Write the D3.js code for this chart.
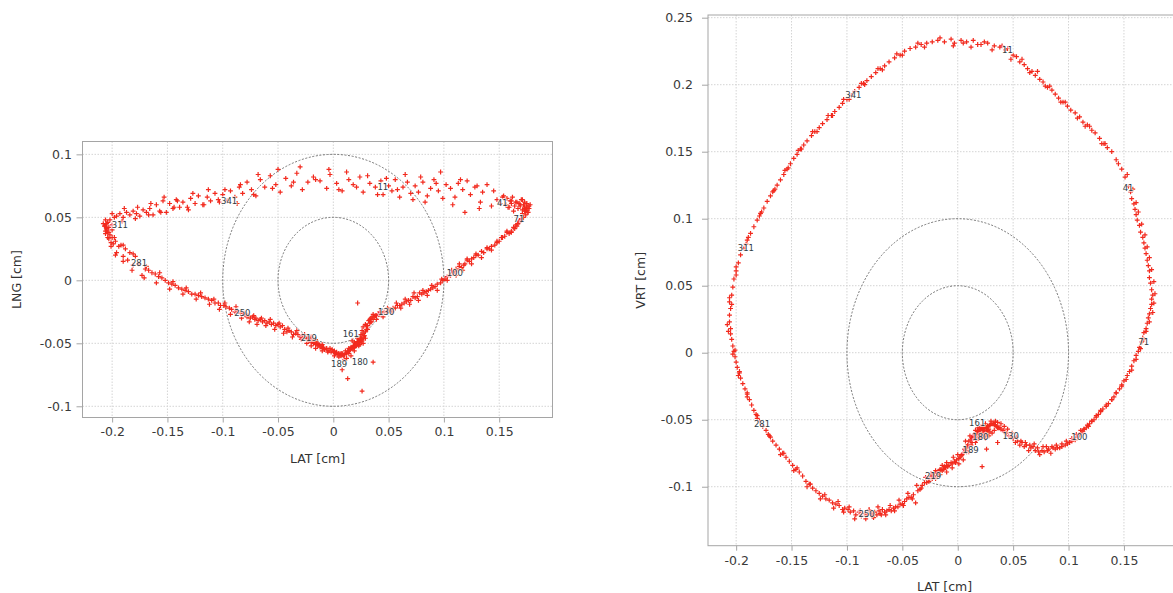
<!DOCTYPE html>
<html>
<head>
<meta charset="utf-8">
<script src="https://cdn.jsdelivr.net/npm/d3@7"></script>
<style>
  html, body { margin: 0; padding: 0; background: #fff; }
  svg text { font-family: "DejaVu Sans", Verdana, sans-serif; }
  .grid  { stroke: #d4d4d4; stroke-width: 1; stroke-dasharray: 1.5,1.5; }
  .ring  { fill: none; stroke: #666; stroke-width: 0.9; stroke-dasharray: 2,1.6; }
  .frame { fill: none; stroke: #a5a5a5; stroke-width: 1; }
  .axis line { stroke: #a5a5a5; }
  .axis text { fill: #3a3a3a; font-size: 12.5px; }
  .title { fill: #333; font-size: 12.5px; }
  .pt    { fill: none; stroke: #f22a1e; stroke-width: 1.2; }
  .plab  { fill: #2f3b45; font-size: 8.5px; stroke: #fff; stroke-width: 2; stroke-opacity: 0.7; paint-order: stroke; }
</style>
</head>
<body>
<svg id="chart" width="1173" height="593"></svg>
<script>
'use strict';

// ── Beat A: one sample per degree of the cycle (index 0..359) ──────────────
const LAT = [
  -0.012,-0.006,-0.003, 0.003, 0.008, 0.014, 0.018, 0.024, 0.027, 0.033,
   0.038, 0.043, 0.045, 0.050, 0.053, 0.056, 0.060, 0.063, 0.067, 0.070,
   0.074, 0.077, 0.081, 0.085, 0.088, 0.091, 0.095, 0.099, 0.102, 0.106,
   0.110, 0.113, 0.117, 0.121, 0.124, 0.128, 0.132, 0.135, 0.139, 0.143,
   0.148, 0.151, 0.154, 0.156, 0.157, 0.159, 0.160, 0.161, 0.162, 0.164,
   0.165, 0.167, 0.168, 0.169, 0.170, 0.171, 0.172, 0.173, 0.173, 0.174,
   0.175, 0.176, 0.175, 0.175, 0.174, 0.173, 0.172, 0.171, 0.170, 0.168,
   0.167, 0.166, 0.164, 0.163, 0.161, 0.159, 0.157, 0.155, 0.153, 0.150,
   0.148, 0.146, 0.143, 0.141, 0.139, 0.136, 0.134, 0.131, 0.129, 0.127,
   0.125, 0.123, 0.121, 0.119, 0.118, 0.116, 0.114, 0.113, 0.111, 0.110,
   0.108, 0.106, 0.103, 0.101, 0.099, 0.097, 0.094, 0.092, 0.090, 0.088,
   0.086, 0.084, 0.082, 0.080, 0.078, 0.076, 0.074, 0.072, 0.070, 0.068,
   0.066, 0.064, 0.062, 0.060, 0.058, 0.056, 0.054, 0.052, 0.050, 0.048,
   0.046, 0.044, 0.042, 0.041, 0.039, 0.038, 0.037, 0.035, 0.034, 0.033,
   0.032, 0.034, 0.029, 0.031, 0.027, 0.030, 0.026, 0.029, 0.025, 0.028,
   0.025, 0.027, 0.023, 0.026, 0.022, 0.024, 0.021, 0.023, 0.020, 0.022,
   0.020, 0.023, 0.019, 0.021, 0.018, 0.022, 0.020, 0.017, 0.021, 0.019,
   0.018, 0.016, 0.020, 0.015, 0.036, 0.014, 0.019, 0.022, 0.013, 0.015,
   0.015, 0.013, 0.014, 0.012, 0.013, 0.010, 0.026, 0.009, 0.008, 0.008,
   0.007, 0.005, 0.008, 0.003, 0.004, 0.001, 0.002,-0.001,-0.002,-0.003,
  -0.005,-0.006,-0.008,-0.009,-0.010,-0.011,-0.012,-0.013,-0.014,-0.015,
  -0.016,-0.017,-0.018,-0.019,-0.020,-0.021,-0.022,-0.023,-0.023,-0.024,
  -0.026,-0.028,-0.030,-0.032,-0.034,-0.036,-0.038,-0.040,-0.042,-0.044,
  -0.046,-0.048,-0.050,-0.052,-0.054,-0.056,-0.058,-0.060,-0.062,-0.064,
  -0.066,-0.068,-0.070,-0.071,-0.073,-0.075,-0.077,-0.078,-0.080,-0.082,
  -0.084,-0.087,-0.089,-0.092,-0.094,-0.097,-0.099,-0.102,-0.104,-0.107,
  -0.110,-0.113,-0.116,-0.119,-0.122,-0.125,-0.128,-0.131,-0.134,-0.137,
  -0.140,-0.143,-0.146,-0.149,-0.152,-0.155,-0.158,-0.161,-0.164,-0.167,
  -0.170,-0.173,-0.176,-0.179,-0.181,-0.184,-0.186,-0.188,-0.190,-0.192,
  -0.194,-0.196,-0.197,-0.199,-0.200,-0.201,-0.202,-0.203,-0.204,-0.205,
  -0.205,-0.206,-0.206,-0.205,-0.206,-0.204,-0.203,-0.202,-0.200,-0.198,
  -0.196,-0.193,-0.190,-0.187,-0.184,-0.181,-0.178,-0.175,-0.172,-0.169,
  -0.166,-0.163,-0.160,-0.157,-0.154,-0.151,-0.148,-0.145,-0.142,-0.139,
  -0.136,-0.132,-0.129,-0.125,-0.122,-0.118,-0.114,-0.111,-0.107,-0.104,
  -0.100,-0.096,-0.093,-0.089,-0.085,-0.082,-0.078,-0.074,-0.070,-0.066,
  -0.062,-0.057,-0.052,-0.048,-0.043,-0.038,-0.033,-0.028,-0.023,-0.018
];

const LNG = [
   0.079, 0.073, 0.084, 0.077, 0.071, 0.080, 0.076, 0.082, 0.070, 0.077,
   0.074, 0.079, 0.068, 0.075, 0.071, 0.080, 0.066, 0.074, 0.078, 0.069,
   0.075, 0.070, 0.078, 0.067, 0.073, 0.080, 0.071, 0.065, 0.076, 0.073,
   0.066, 0.077, 0.072, 0.079, 0.068, 0.074, 0.057, 0.070, 0.076, 0.059,
   0.064, 0.061, 0.067, 0.060, 0.065, 0.058, 0.063, 0.061, 0.066, 0.059,
   0.062, 0.057, 0.061, 0.059, 0.064, 0.056, 0.060, 0.058, 0.062, 0.055,
   0.058, 0.054, 0.059, 0.056, 0.052, 0.055, 0.050, 0.053, 0.048, 0.046,
   0.045, 0.043, 0.041, 0.042, 0.039, 0.037, 0.038, 0.035, 0.034, 0.031,
   0.030, 0.028, 0.027, 0.025, 0.026, 0.022, 0.023, 0.020, 0.021, 0.018,
   0.017, 0.015, 0.016, 0.013, 0.012, 0.010, 0.011, 0.008, 0.009, 0.007,
   0.006, 0.004, 0.003, 0.001, 0.000,-0.002,-0.003,-0.005,-0.006,-0.007,
  -0.008,-0.009,-0.010,-0.011,-0.010,-0.013,-0.014,-0.013,-0.016,-0.016,
  -0.017,-0.018,-0.019,-0.020,-0.020,-0.022,-0.022,-0.023,-0.024,-0.025,
  -0.025,-0.026,-0.027,-0.027,-0.028,-0.028,-0.029,-0.029,-0.030,-0.031,
  -0.032,-0.033,-0.035,-0.036,-0.037,-0.039,-0.040,-0.041,-0.043,-0.044,
  -0.045,-0.046,-0.047,-0.048,-0.046,-0.049,-0.050,-0.048,-0.051,-0.049,
  -0.050,-0.052,-0.049,-0.051,-0.053,-0.050,-0.052,-0.048,-0.051,-0.053,
  -0.052,-0.054,-0.051,-0.055,-0.065,-0.056,-0.052,-0.018,-0.057,-0.055,
  -0.055,-0.057,-0.054,-0.058,-0.078,-0.059,-0.088,-0.060,-0.058,-0.059,
  -0.060,-0.058,-0.071,-0.057,-0.059,-0.056,-0.058,-0.055,-0.057,-0.054,
  -0.056,-0.054,-0.055,-0.053,-0.054,-0.052,-0.053,-0.051,-0.052,-0.050,
  -0.051,-0.049,-0.050,-0.048,-0.049,-0.047,-0.048,-0.046,-0.047,-0.046,
  -0.045,-0.044,-0.045,-0.043,-0.042,-0.043,-0.041,-0.040,-0.041,-0.039,
  -0.036,-0.037,-0.035,-0.036,-0.034,-0.035,-0.033,-0.034,-0.032,-0.033,
  -0.031,-0.032,-0.030,-0.031,-0.029,-0.030,-0.028,-0.029,-0.027,-0.026,
  -0.026,-0.024,-0.025,-0.023,-0.022,-0.021,-0.020,-0.020,-0.018,-0.018,
  -0.016,-0.015,-0.014,-0.013,-0.012,-0.011,-0.011,-0.009,-0.008,-0.007,
  -0.006,-0.004,-0.003,-0.002, 0.000, 0.002, 0.003, 0.005, 0.006, 0.008,
   0.009, 0.004, 0.013, 0.019, 0.012, 0.022, 0.016, 0.025, 0.019, 0.028,
   0.027, 0.022, 0.031, 0.029, 0.034, 0.030, 0.036, 0.033, 0.038, 0.040,
   0.041, 0.037, 0.043, 0.045, 0.039, 0.046, 0.042, 0.048, 0.044, 0.050,
   0.051, 0.053, 0.050, 0.054, 0.052, 0.055, 0.053, 0.051, 0.056, 0.054,
   0.057, 0.052, 0.060, 0.055, 0.063, 0.054, 0.061, 0.057, 0.064, 0.058,
   0.062, 0.058, 0.065, 0.061, 0.067, 0.060, 0.066, 0.063, 0.069, 0.064,
   0.068, 0.063, 0.071, 0.066, 0.074, 0.069, 0.078, 0.072, 0.067, 0.080,
   0.074, 0.083, 0.076, 0.070, 0.081, 0.075, 0.085, 0.072, 0.078, 0.082
];

const VRT = [
   0.232, 0.234, 0.231, 0.233, 0.232, 0.233, 0.230, 0.232, 0.231, 0.229,
   0.228, 0.226, 0.227, 0.222, 0.221, 0.217, 0.215, 0.212, 0.210, 0.207,
   0.204, 0.202, 0.198, 0.196, 0.193, 0.190, 0.187, 0.184, 0.181, 0.179,
   0.176, 0.172, 0.170, 0.166, 0.164, 0.160, 0.156, 0.153, 0.150, 0.144,
   0.137, 0.131, 0.124, 0.120, 0.115, 0.111, 0.107, 0.103, 0.099, 0.095,
   0.090, 0.086, 0.082, 0.078, 0.074, 0.069, 0.065, 0.061, 0.056, 0.052,
   0.047, 0.043, 0.040, 0.036, 0.033, 0.029, 0.026, 0.022, 0.018, 0.015,
   0.011, 0.008, 0.004, 0.001,-0.002,-0.006,-0.010,-0.014,-0.017,-0.021,
  -0.025,-0.027,-0.030,-0.033,-0.035,-0.038,-0.040,-0.042,-0.044,-0.046,
  -0.048,-0.050,-0.051,-0.053,-0.055,-0.056,-0.057,-0.059,-0.060,-0.061,
  -0.063,-0.065,-0.066,-0.067,-0.068,-0.069,-0.070,-0.071,-0.071,-0.072,
  -0.071,-0.075,-0.072,-0.070,-0.074,-0.073,-0.076,-0.071,-0.073,-0.070,
  -0.071,-0.073,-0.069,-0.070,-0.067,-0.069,-0.066,-0.067,-0.064,-0.063,
  -0.062,-0.060,-0.059,-0.058,-0.057,-0.056,-0.056,-0.055,-0.054,-0.054,
  -0.053,-0.052,-0.054,-0.053,-0.055,-0.053,-0.056,-0.054,-0.055,-0.057,
  -0.055,-0.058,-0.056,-0.059,-0.057,-0.060,-0.056,-0.058,-0.061,-0.057,
  -0.058,-0.060,-0.057,-0.061,-0.059,-0.062,-0.058,-0.060,-0.063,-0.059,
  -0.060,-0.058,-0.063,-0.061,-0.067,-0.062,-0.064,-0.085,-0.063,-0.061,
  -0.062,-0.064,-0.063,-0.065,-0.067,-0.066,-0.072,-0.069,-0.070,-0.071,
  -0.073,-0.075,-0.074,-0.077,-0.076,-0.079,-0.078,-0.080,-0.082,-0.081,
  -0.083,-0.082,-0.084,-0.085,-0.084,-0.086,-0.085,-0.087,-0.088,-0.087,
  -0.088,-0.091,-0.089,-0.090,-0.093,-0.090,-0.092,-0.094,-0.091,-0.092,
  -0.094,-0.097,-0.097,-0.099,-0.102,-0.103,-0.112,-0.106,-0.108,-0.108,
  -0.109,-0.111,-0.113,-0.113,-0.115,-0.115,-0.116,-0.118,-0.117,-0.118,
  -0.119,-0.117,-0.120,-0.118,-0.121,-0.119,-0.122,-0.120,-0.118,-0.121,
  -0.120,-0.122,-0.119,-0.121,-0.118,-0.119,-0.117,-0.116,-0.117,-0.114,
  -0.113,-0.112,-0.110,-0.109,-0.107,-0.105,-0.103,-0.101,-0.098,-0.096,
  -0.092,-0.089,-0.087,-0.084,-0.081,-0.078,-0.075,-0.072,-0.069,-0.066,
  -0.062,-0.058,-0.055,-0.051,-0.047,-0.043,-0.039,-0.035,-0.031,-0.027,
  -0.023,-0.019,-0.015,-0.011,-0.007,-0.003, 0.001, 0.005, 0.010, 0.014,
   0.018, 0.023, 0.028, 0.033, 0.038, 0.043, 0.049, 0.055, 0.061, 0.067,
   0.073, 0.078, 0.084, 0.089, 0.094, 0.099, 0.104, 0.108, 0.113, 0.117,
   0.121, 0.125, 0.129, 0.133, 0.137, 0.141, 0.145, 0.148, 0.152, 0.155,
   0.158, 0.162, 0.165, 0.168, 0.171, 0.174, 0.177, 0.180, 0.183, 0.186,
   0.189, 0.192, 0.195, 0.198, 0.201, 0.203, 0.206, 0.209, 0.212, 0.214,
   0.217, 0.220, 0.222, 0.225, 0.227, 0.228, 0.230, 0.231, 0.232, 0.233
];

// ── Beat B: one sample every other degree (odd index 1..359) ───────────────
const LAT_B = [
  -0.004, 0.005, 0.012, 0.021, 0.031, 0.040, 0.048, 0.058, 0.065, 0.072,
   0.079, 0.083, 0.093, 0.097, 0.108, 0.115, 0.119, 0.130, 0.133, 0.145,
   0.153, 0.158, 0.161, 0.163, 0.166, 0.169, 0.171, 0.173, 0.175, 0.177,
   0.178, 0.177, 0.176, 0.173, 0.170, 0.168, 0.165, 0.161, 0.157, 0.152,
   0.148, 0.143, 0.139, 0.134, 0.129, 0.125, 0.121, 0.117, 0.114, 0.111,
   0.107, 0.103, 0.098, 0.094, 0.089, 0.085, 0.081, 0.077, 0.073, 0.069,
   0.065, 0.061, 0.057, 0.053, 0.049, 0.045, 0.042, 0.039, 0.036, 0.034,
   0.036, 0.030, 0.033, 0.027, 0.031, 0.025, 0.028, 0.024, 0.026, 0.021,
   0.024, 0.018, 0.025, 0.016, 0.027, 0.019, 0.029, 0.017, 0.023, 0.014,
   0.016, 0.011, 0.012, 0.007, 0.010, 0.006, 0.005, 0.000, 0.001,-0.004,
  -0.005,-0.010,-0.010,-0.014,-0.016,-0.016,-0.020,-0.020,-0.024,-0.026,
  -0.029,-0.033,-0.037,-0.041,-0.045,-0.049,-0.053,-0.057,-0.061,-0.065,
  -0.069,-0.072,-0.076,-0.080,-0.083,-0.088,-0.093,-0.098,-0.103,-0.108,
  -0.112,-0.120,-0.124,-0.133,-0.136,-0.145,-0.148,-0.157,-0.160,-0.169,
  -0.171,-0.181,-0.182,-0.190,-0.190,-0.198,-0.197,-0.203,-0.201,-0.207,
  -0.208,-0.204,-0.206,-0.200,-0.200,-0.191,-0.189,-0.179,-0.177,-0.167,
  -0.165,-0.156,-0.153,-0.144,-0.141,-0.131,-0.127,-0.117,-0.113,-0.103,
  -0.098,-0.087,-0.084,-0.072,-0.068,-0.055,-0.050,-0.036,-0.030,-0.016
];

const LNG_B = [
   0.088, 0.072, 0.086, 0.074, 0.083, 0.068, 0.081, 0.072, 0.084, 0.064,
   0.082, 0.062, 0.077, 0.086, 0.060, 0.080, 0.054, 0.075, 0.062, 0.071,
   0.066, 0.058, 0.063, 0.055, 0.062, 0.060, 0.064, 0.057, 0.061, 0.059,
   0.060, 0.057, 0.054, 0.056, 0.049, 0.047, 0.044, 0.038, 0.039, 0.034,
   0.031, 0.024, 0.025, 0.018, 0.020, 0.013, 0.017, 0.008, 0.013, 0.004,
   0.008, 0.000, 0.001,-0.008,-0.004,-0.012,-0.008,-0.016,-0.010,-0.019,
  -0.015,-0.022,-0.018,-0.025,-0.022,-0.029,-0.025,-0.031,-0.027,-0.033,
  -0.031,-0.036,-0.034,-0.042,-0.039,-0.046,-0.044,-0.051,-0.047,-0.052,
  -0.049,-0.054,-0.047,-0.053,-0.050,-0.056,-0.046,-0.054,-0.049,-0.058,
  -0.060,-0.056,-0.062,-0.058,-0.063,-0.059,-0.061,-0.057,-0.060,-0.056,
  -0.057,-0.051,-0.056,-0.050,-0.054,-0.047,-0.052,-0.045,-0.050,-0.043,
  -0.047,-0.040,-0.045,-0.038,-0.042,-0.034,-0.039,-0.031,-0.036,-0.030,
  -0.035,-0.028,-0.033,-0.026,-0.030,-0.021,-0.027,-0.018,-0.023,-0.015,
  -0.019,-0.010,-0.015,-0.006,-0.011,-0.001,-0.007, 0.006,-0.002, 0.011,
   0.002, 0.021, 0.008, 0.028, 0.015, 0.034, 0.020, 0.038, 0.027, 0.043,
   0.045, 0.034, 0.048, 0.040, 0.053, 0.047, 0.057, 0.049, 0.058, 0.052,
   0.061, 0.054, 0.066, 0.058, 0.063, 0.056, 0.069, 0.060, 0.072, 0.062,
   0.072, 0.061, 0.076, 0.068, 0.084, 0.073, 0.088, 0.078, 0.090, 0.080
];

const VRT_B = [
   0.229, 0.231, 0.228, 0.230, 0.226, 0.229, 0.219, 0.219, 0.209, 0.210,
   0.199, 0.199, 0.187, 0.187, 0.175, 0.169, 0.169, 0.156, 0.156, 0.141,
   0.133, 0.122, 0.112, 0.105, 0.096, 0.088, 0.079, 0.071, 0.062, 0.053,
   0.044, 0.037, 0.030, 0.023, 0.016, 0.010, 0.003,-0.005,-0.013,-0.020,
  -0.024,-0.030,-0.035,-0.039,-0.043,-0.047,-0.051,-0.054,-0.057,-0.058,
  -0.061,-0.064,-0.066,-0.068,-0.069,-0.070,-0.073,-0.070,-0.074,-0.068,
  -0.069,-0.067,-0.066,-0.063,-0.060,-0.057,-0.055,-0.053,-0.052,-0.051,
  -0.056,-0.051,-0.058,-0.055,-0.060,-0.053,-0.062,-0.057,-0.061,-0.055,
  -0.062,-0.056,-0.064,-0.060,-0.058,-0.063,-0.059,-0.065,-0.056,-0.064,
  -0.067,-0.062,-0.069,-0.066,-0.074,-0.072,-0.080,-0.076,-0.083,-0.078,
  -0.086,-0.082,-0.089,-0.084,-0.091,-0.087,-0.094,-0.088,-0.090,-0.096,
  -0.093,-0.101,-0.099,-0.109,-0.105,-0.114,-0.110,-0.118,-0.114,-0.121,
  -0.121,-0.115,-0.123,-0.117,-0.124,-0.118,-0.124,-0.115,-0.119,-0.111,
  -0.116,-0.106,-0.109,-0.098,-0.100,-0.086,-0.088,-0.075,-0.076,-0.063,
  -0.061,-0.049,-0.046,-0.033,-0.030,-0.017,-0.014,-0.001, 0.002, 0.016,
   0.021, 0.036, 0.041, 0.058, 0.064, 0.081, 0.086, 0.102, 0.105, 0.120,
   0.122, 0.136, 0.138, 0.151, 0.152, 0.165, 0.165, 0.177, 0.177, 0.189,
   0.189, 0.201, 0.200, 0.212, 0.211, 0.223, 0.222, 0.231, 0.228, 0.235
];

// cycle positions that carry a text label
const LABEL_IDX = [11, 41, 71, 100, 130, 161, 180, 189, 219, 250, 281, 311, 341];

// ticks and reference rings (cm)
const LAT_TICKS = [-0.2, -0.15, -0.1, -0.05, 0, 0.05, 0.1, 0.15];
const LNG_TICKS = [-0.1, -0.05, 0, 0.05, 0.1];
const VRT_TICKS = [-0.1, -0.05, 0, 0.05, 0.1, 0.15, 0.2, 0.25];
const RINGS     = [0.05, 0.1];

// ── Setup ──────────────────────────────────────────────────────────────────
const beatA = LAT.map((lat, i) => ({ i, lat, lng: LNG[i], vrt: VRT[i] }));
const beatB = LAT_B.map((lat, k) => ({ i: 2 * k + 1, lat, lng: LNG_B[k], vrt: VRT_B[k] }));
const samples = beatA.concat(beatB);

const svg  = d3.select('#chart');
const PLUS = 'M-2.4,0H2.4M0,-2.4V2.4';
const fmt  = v => String(+v.toFixed(2));

function drawPanel(o) {
  const x = d3.scaleLinear().domain(o.xDomain).range([o.left, o.right]);
  const y = d3.scaleLinear().domain(o.yDomain).range([o.bottom, o.top]);
  const g = svg.append('g');

  // grid
  g.append('g').selectAll('line').data(LAT_TICKS).join('line')
    .attr('class', 'grid')
    .attr('x1', d => x(d)).attr('x2', d => x(d))
    .attr('y1', o.top).attr('y2', o.bottom);
  g.append('g').selectAll('line').data(o.yTicks).join('line')
    .attr('class', 'grid')
    .attr('x1', o.left).attr('x2', o.right)
    .attr('y1', d => y(d)).attr('y2', d => y(d));

  // reference rings
  g.append('g').selectAll('ellipse').data(RINGS).join('ellipse')
    .attr('class', 'ring')
    .attr('cx', x(0)).attr('cy', y(0))
    .attr('rx', d => x(d) - x(0))
    .attr('ry', d => y(0) - y(d));

  // frame
  g.append('rect').attr('class', 'frame')
    .attr('x', o.left).attr('y', o.top)
    .attr('width', o.right - o.left).attr('height', o.bottom - o.top);

  // axes
  const xa = g.append('g').attr('class', 'axis')
    .attr('transform', `translate(0,${o.bottom})`)
    .call(d3.axisBottom(x).tickValues(LAT_TICKS).tickFormat(fmt).tickSize(5).tickPadding(5));
  const ya = g.append('g').attr('class', 'axis')
    .attr('transform', `translate(${o.left},0)`)
    .call(d3.axisLeft(y).tickValues(o.yTicks).tickFormat(fmt).tickSize(6).tickPadding(o.yPad));
  xa.select('.domain').remove();
  ya.select('.domain').remove();
  g.selectAll('.axis text').attr('font-family', null).attr('font-size', null).attr('fill', null);
  g.selectAll('.axis line').attr('stroke', null);

  // points
  g.append('g').selectAll('path').data(samples).join('path')
    .attr('class', 'pt')
    .attr('d', PLUS)
    .attr('transform', d => `translate(${x(d.lat)},${y(d[o.key])})`);

  // cycle labels (a few are nudged apart where they crowd)
  const nud = d => o.nudge[d.i] || [0, 0];
  g.append('g').selectAll('text').data(LABEL_IDX.map(i => beatA[i])).join('text')
    .attr('class', 'plab')
    .attr('x', d => x(d.lat) + 2 + nud(d)[0])
    .attr('y', d => y(d[o.key]) + nud(d)[1])
    .attr('dy', '0.35em')
    .attr('text-anchor', 'middle')
    .text(d => d.i);

  // titles
  g.append('text').attr('class', 'title')
    .attr('x', (o.left + o.right) / 2).attr('y', o.bottom + 45)
    .attr('text-anchor', 'middle')
    .text('LAT [cm]');
  g.append('text').attr('class', 'title')
    .attr('transform', `translate(${o.yTitleX},${(o.top + o.bottom) / 2}) rotate(-90)`)
    .attr('text-anchor', 'middle')
    .text(o.yTitle);
}

// LAT vs LNG
drawPanel({
  key: 'lng', yTitle: 'LNG [cm]', yTicks: LNG_TICKS,
  left: 82.5, right: 552.5, top: 141.5, bottom: 417.5,
  xDomain: [-0.2268, 0.1982], yDomain: [-0.1089, 0.1102],
  yPad: 4.5, yTitleX: 21,
  nudge: { 161: [-10, -12], 180: [8, 12], 189: [-5, 9], 11: [0, 6],
           311: [-2, 11], 281: [-5, -12], 71: [0, -7] }
});

// LAT vs VRT
drawPanel({
  key: 'vrt', yTitle: 'VRT [cm]', yTicks: VRT_TICKS,
  left: 708, right: 1181, top: 15, bottom: 545.7,
  xDomain: [-0.2254, 0.2015], yDomain: [-0.144, 0.252],
  yPad: 9, yTitleX: 645,
  nudge: { 161: [-8, -10], 180: [4, 1], 189: [2, 2], 41: [1, 11], 281: [-6, -6] }
});
</script>
</body>
</html>
